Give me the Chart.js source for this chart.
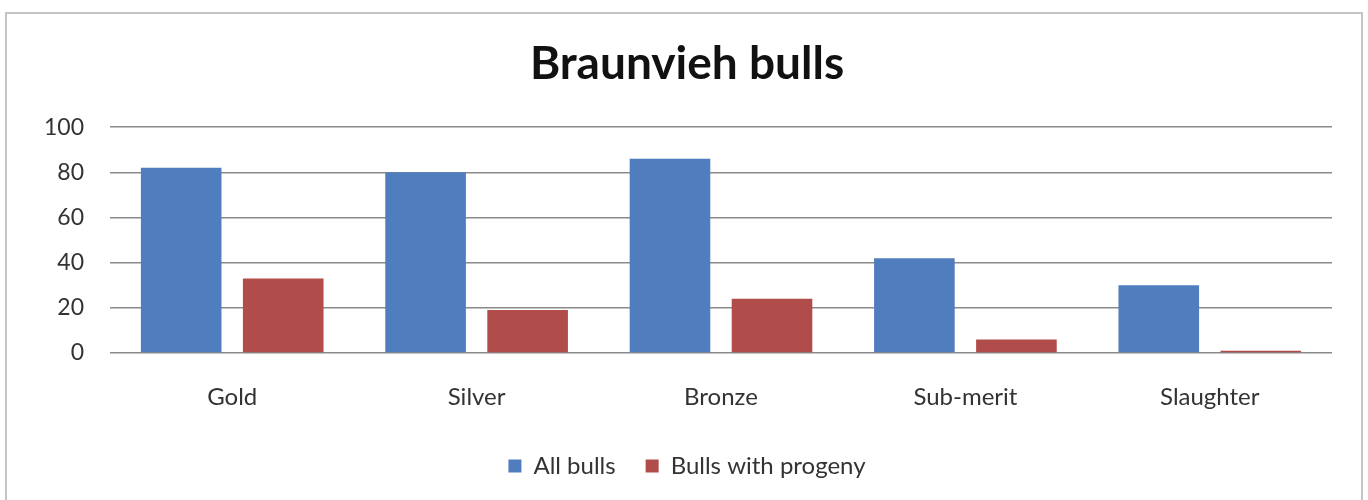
<!DOCTYPE html>
<html>
<head>
<meta charset="utf-8">
<script src="https://cdn.jsdelivr.net/npm/chart.js@4/dist/chart.umd.min.js"></script>
<style>
body { margin:0; background:#fff; }
#frame { position:absolute; left:5px; top:12px; width:1354px; height:520px; border:2px solid #c4c4c4; }
#wrap { position:absolute; left:0; top:0; width:1368px; height:500px; }
</style>
</head>
<body>
<div id="frame"></div>
<div id="wrap"><canvas id="myChart"></canvas></div>
<script>
// data
const categories = ['Gold', 'Silver', 'Bronze', 'Sub-merit', 'Slaughter'];
const allBulls = [82, 80, 86, 42, 30];
const bullsWithProgeny = [33, 19, 24, 6, 1];
const yTicks = [0, 20, 40, 60, 80, 100];

const font = 'Lato, "Liberation Sans", sans-serif';

const ctx = document.getElementById('myChart');
new Chart(ctx, {
    type: 'bar',
    data: {
        labels: categories,
        datasets: [{
            label: 'All bulls',
            data: allBulls,
            backgroundColor: '#4F7DBE'
        }, {
            label: 'Bulls with progeny',
            data: bullsWithProgeny,
            backgroundColor: '#B04C49'
        }]
    },
    options: {
        responsive: true,
        maintainAspectRatio: false,
        animation: false,
        datasets: { bar: { categoryPercentage: 0.835, barPercentage: 0.79 } },
        layout: { padding: { top: 37, left: 42, right: 36, bottom: 12 } },
        plugins: {
            title: {
                display: true,
                text: 'Braunvieh bulls',
                color: '#111',
                font: { family: font, size: 46, weight: 'bold' },
                padding: { top: 0, bottom: 35 }
            },
            legend: {
                position: 'bottom',
                labels: {
                    boxWidth: 13, boxHeight: 13,
                    color: '#333',
                    font: { family: font, size: 24 },
                    padding: 30
                }
            },
            tooltip: { enabled: false }
        },
        scales: {
            x: {
                afterFit: (axis) => { axis.height = axis.height - 17; },
                grid: { display: false, drawTicks: false },
                border: { display: false },
                ticks: { color: '#333', font: { family: font, size: 24, lineHeight: 1.0 }, padding: 32 }
            },
            y: {
                min: 0, max: 100,
                afterBuildTicks: (axis) => { axis.ticks = yTicks.map(v => ({ value: v })); },
                afterFit: (axis) => { axis.width = 68; },
                grid: { color: '#8a8a8a', lineWidth: 1.6, drawTicks: false },
                border: { display: false },
                ticks: { color: '#333', font: { family: font, size: 23 }, padding: 26 }
            }
        }
    }
});
</script>
</body>
</html>
